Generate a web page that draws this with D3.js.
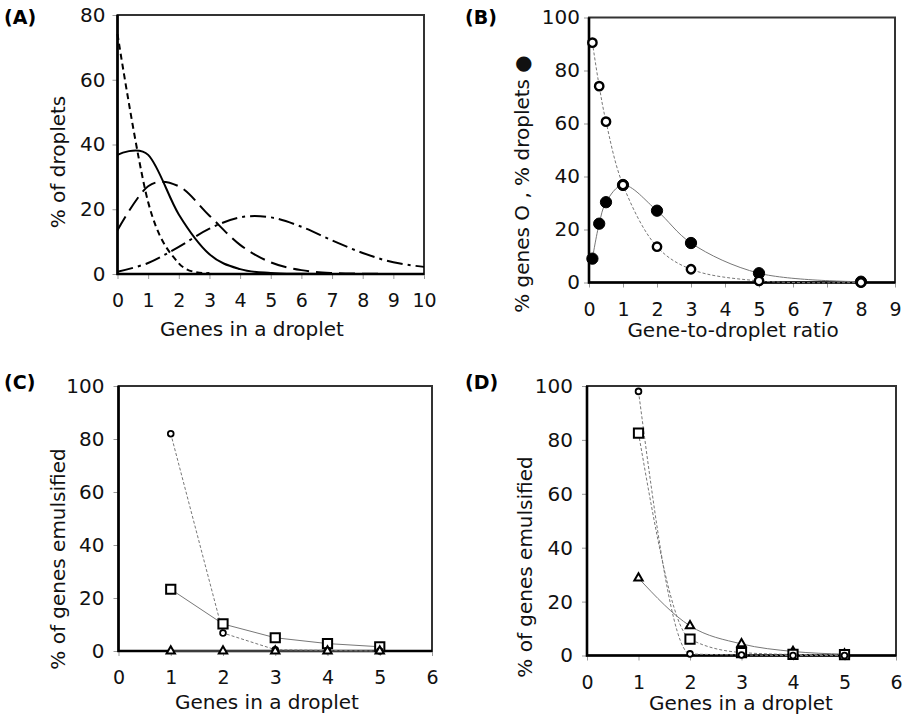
<!DOCTYPE html>
<html>
<head>
<meta charset="utf-8">
<script src="https://cdn.jsdelivr.net/npm/d3@7"></script>
<style>
  body { margin: 0; background: #fff; }
  svg { display: block; }
</style>
</head>
<body>
<div id="chart"></div>
<script>
// (A) % of droplets holding n genes
const aGenes = [0, 1, 2, 3, 4, 5, 6, 7, 8, 9, 10];
const aShortDash = [74.1, 22.2, 3.3, 0.3];
const aSolid = [36.8, 36.8, 18.4, 6.1, 1.5, 0.3, 0.05, 0];
const aLongDash = [13.5, 27.1, 27.1, 18.0, 9.0, 3.6, 1.2, 0.3, 0.1, 0];
const aDashDot = [0.7, 3.4, 8.4, 14.0, 17.5, 17.5, 14.6, 10.4, 6.5, 3.6, 2.2];

// (B) gene-to-droplet ratio
const bRatio = [0.1, 0.3, 0.5, 1, 2, 3, 5, 8];
const bGenes = [90.5, 74.1, 60.7, 36.8, 13.5, 5.0, 0.6, 0];
const bDroplets = [9.0, 22.2, 30.3, 36.8, 27.1, 14.9, 3.5, 0.3];

// (C) and (D) genes in a droplet
const cdGenes = [1, 2, 3, 4, 5];
const cCircle = [82, 6.8, 0.5, 0.2, 0];
const cSquare = [23.3, 10.2, 5.0, 2.8, 1.6];
const cTriangle = [0, 0, 0, 0, 0];
const dCircle = [98, 0.6, 0.2, 0, 0];
const dSquare = [82.5, 6.1, 1.1, 0.4, 0.3];
const dTriangle = [28.7, 11.0, 4.3, 1.5, 0.5];

const aTicksX = d3.range(0, 11), aTicksY = [0, 20, 40, 60, 80];
const bTicksX = d3.range(0, 10), pctTicks = [0, 20, 40, 60, 80, 100];
const cdTicksX = d3.range(0, 7);

const FONT = "'DejaVu Sans', Verdana, sans-serif";
const W = 906, H = 715;

const svg = d3.select("#chart").append("svg")
    .attr("width", W)
    .attr("height", H)
    .style("font-family", FONT);
svg.append("rect").attr("width", W).attr("height", H).attr("fill", "#fff");

const smooth = d3.curveCatmullRom.alpha(0.5);

function drawPanel(p) {
    const x = d3.scaleLinear().domain(p.xDomain).range([p.left, p.right]);
    const y = d3.scaleLinear().domain(p.yDomain).range([p.bottom, p.top]);
    const g = svg.append("g");

    // tick marks + labels
    g.append("g")
        .attr("transform", `translate(0,${p.bottom})`)
        .call(d3.axisBottom(x).tickValues(p.xTicks).tickSize(5).tickPadding(15).tickFormat(d3.format("d")))
        .call(a => a.select(".domain").remove())
        .call(a => a.selectAll("line").attr("stroke", "#999"))
        .call(a => a.selectAll("text").style("font-size", "19px").attr("fill", "#111").attr("font-family", FONT));
    g.append("g")
        .attr("transform", `translate(${p.left},0)`)
        .call(d3.axisLeft(y).tickValues(p.yTicks).tickSize(5).tickPadding(p.yPad))
        .call(a => a.select(".domain").remove())
        .call(a => a.selectAll("line").attr("stroke", "#999"))
        .call(a => a.selectAll("text").style("font-size", "20px").attr("fill", "#111").attr("font-family", FONT));

    // frame
    g.append("rect")
        .attr("x", p.left).attr("y", p.top)
        .attr("width", p.right - p.left).attr("height", p.bottom - p.top)
        .attr("fill", "none").attr("stroke", "#333").attr("stroke-width", 2);
    g.append("path")
        .attr("d", `M${p.left},${p.top}V${p.bottom}H${p.right}`)
        .attr("fill", "none").attr("stroke", "#000").attr("stroke-width", 2.6);

    // lines
    p.series.forEach(s => {
        const pts = s.values.map((v, i) => [s.xs[i], v]);
        g.append("path")
            .datum(pts)
            .attr("fill", "none")
            .attr("stroke", s.color || "#000")
            .attr("stroke-width", s.width || 2)
            .attr("stroke-dasharray", s.dash || null)
            .attr("d", d3.line().x(d => x(d[0])).y(d => y(d[1])).curve(s.curve || smooth));
    });
    // markers
    p.series.filter(s => s.symbol).forEach(s => {
        g.selectAll(null)
            .data(s.values.map((v, i) => [s.xs[i], v]))
            .join("path")
            .attr("transform", d => `translate(${x(d[0])},${y(d[1])})`)
            .attr("d", d3.symbol().type(s.symbol).size(s.size))
            .attr("fill", s.fill)
            .attr("stroke", "#000")
            .attr("stroke-width", s.stroke);
    });

    // titles
    g.append("text")
        .attr("x", p.labelX).attr("y", p.labelY)
        .style("font-size", "19px").style("font-weight", "bold")
        .text(p.label);
    g.append("text")
        .attr("x", p.xTitleX).attr("y", p.xTitleY)
        .attr("text-anchor", "middle")
        .style("font-size", "20px").attr("fill", "#111")
        .text(p.xTitle);
    g.append("text")
        .attr("transform", `translate(${p.yTitleX},${p.yTitleY})rotate(-90)`)
        .attr("text-anchor", "middle")
        .style("font-size", "20px").attr("fill", "#111")
        .text(p.yTitle);
}

const gray = "#777";

drawPanel({
    left: 117.5, right: 424, top: 15, bottom: 274,
    xDomain: [0, 10], yDomain: [0, 80], xTicks: aTicksX, yTicks: aTicksY, yPad: 7,
    label: "(A)", labelX: 4, labelY: 24,
    xTitle: "Genes in a droplet", xTitleX: 252, xTitleY: 336,
    yTitle: "% of droplets", yTitleX: 65, yTitleY: 162,
    series: [
        { xs: aGenes, values: aShortDash, dash: "6,4", curve: d3.curveCardinal.tension(0) },
        { xs: aGenes, values: aSolid, curve: d3.curveCardinal.tension(0) },
        { xs: aGenes, values: aLongDash, dash: "16,7", curve: d3.curveCardinal.tension(0) },
        { xs: aGenes, values: aDashDot, dash: "16,5,3,5", curve: d3.curveCardinal.tension(0) }
    ]
});

drawPanel({
    left: 589, right: 895, top: 17.5, bottom: 282.5,
    xDomain: [0, 9], yDomain: [0, 100], xTicks: bTicksX, yTicks: pctTicks, yPad: 4,
    label: "(B)", labelX: 465, labelY: 24,
    xTitle: "Gene-to-droplet ratio", xTitleX: 733, xTitleY: 337,
    yTitle: "% genes O , % droplets \u25CF", yTitleX: 529, yTitleY: 184,
    series: [
        { xs: bRatio, values: bDroplets, color: gray, width: 1, symbol: d3.symbolCircle, size: 100, fill: "#000", stroke: 1 },
        { xs: bRatio, values: bGenes, color: gray, width: 1, dash: "3,2", symbol: d3.symbolCircle, size: 55, fill: "#fff", stroke: 2.4 }
    ]
});

drawPanel({
    left: 118.5, right: 432, top: 386, bottom: 651,
    xDomain: [0, 6], yDomain: [0, 100], xTicks: cdTicksX, yTicks: pctTicks, yPad: 9,
    label: "(C)", labelX: 4, labelY: 389,
    xTitle: "Genes in a droplet", xTitleX: 267, xTitleY: 709,
    yTitle: "% of genes emulsified", yTitleX: 65, yTitleY: 559,
    series: [
        { xs: cdGenes, values: cSquare, color: gray, width: 1, curve: d3.curveLinear, symbol: d3.symbolSquare, size: 85, fill: "#fff", stroke: 2 },
        { xs: cdGenes, values: cCircle, color: gray, width: 1, dash: "3,2", curve: d3.curveLinear, symbol: d3.symbolCircle, size: 26, fill: "#fff", stroke: 1.8 },
        { xs: cdGenes, values: cTriangle, color: gray, width: 1, curve: d3.curveLinear, symbol: d3.symbolTriangle, size: 30, fill: "#fff", stroke: 2 }
    ]
});

drawPanel({
    left: 587, right: 896, top: 386, bottom: 655.5,
    xDomain: [0, 6], yDomain: [0, 100], xTicks: cdTicksX, yTicks: pctTicks, yPad: 9,
    label: "(D)", labelX: 465, labelY: 389,
    xTitle: "Genes in a droplet", xTitleX: 741, xTitleY: 710,
    yTitle: "% of genes emulsified", yTitleX: 532, yTitleY: 567,
    series: [
        { xs: cdGenes, values: dTriangle, color: gray, width: 1, curve: d3.curveMonotoneX, symbol: d3.symbolTriangle, size: 30, fill: "#fff", stroke: 2 },
        { xs: cdGenes, values: dSquare, color: gray, width: 1, dash: "3,2", curve: d3.curveMonotoneX, symbol: d3.symbolSquare, size: 85, fill: "#fff", stroke: 2 },
        { xs: cdGenes, values: dCircle, color: gray, width: 1, dash: "3,2", curve: d3.curveMonotoneX, symbol: d3.symbolCircle, size: 26, fill: "#fff", stroke: 1.8 }
    ]
});
</script>
</body>
</html>
